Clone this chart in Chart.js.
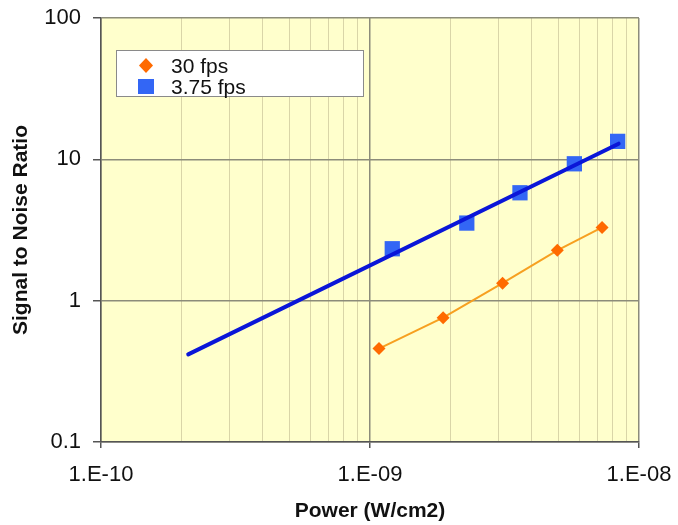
<!DOCTYPE html>
<html>
<head>
<meta charset="utf-8">
<script src="https://cdn.jsdelivr.net/npm/chart.js@4/dist/chart.umd.min.js"></script>
<style>
  html, body { margin: 0; padding: 0; background: #fff; }
  #wrap { width: 678px; height: 525px; }
</style>
</head>
<body>
<div id="wrap"><canvas id="snrChart"></canvas></div>
<script>
// values
const xTickLabels = ["1.E-10", "1.E-09", "1.E-08"];
const yTickLabels = ["0.1", "1", "10", "100"];

const power30 = [1.08e-9, 1.87e-9, 3.11e-9, 4.97e-9, 7.29e-9];
const snr30 = [0.458, 0.758, 1.33, 2.27, 3.30];

const power375 = [1.21e-9, 2.29e-9, 3.61e-9, 5.75e-9, 8.33e-9];
const snr375 = [2.33, 3.54, 5.80, 9.3, 13.4];

// straight fit line for 3.75 fps
const fitPower = [2.11e-10, 8.4e-9];
const fitSnr = [0.417, 12.9];

const legendLabels = ["30 fps", "3.75 fps"];

const FONT = "'Liberation Sans', Arial, sans-serif";
const ORANGE = "#ff6a00";
const ORANGE_LINE = "#f7a020";
const BLUE = "#3366f5";
const BLUE_LINE = "#0a16d8";
const MAJOR = "#8c8c7a";
const MINOR = "#d9d5a8";

const toPoints = (xs, ys) => xs.map((x, i) => ({ x: x, y: ys[i] }));

const isDecade = v => Math.abs(Math.log10(v) - Math.round(Math.log10(v))) < 1e-6;

// tick values: decades, plus 2..9 between them on the x axis
function logTicks(min, max, withMinor) {
  const out = [];
  const lo = Math.round(Math.log10(min));
  const hi = Math.round(Math.log10(max));
  for (let e = lo; e <= hi; e++) {
    out.push({ value: Math.pow(10, e) });
    if (withMinor && e < hi) {
      for (let m = 2; m <= 9; m++) out.push({ value: m * Math.pow(10, e) });
    }
  }
  return out;
}

function decadeLabel(labels, min) {
  return function (value) {
    if (!isDecade(value)) return "";
    const i = Math.round(Math.log10(value)) - Math.round(Math.log10(min));
    return labels[i] || "";
  };
}

// plot background + boxed legend inside the plot
const plotDecor = {
  id: "plotDecor",
  beforeDraw(chart) {
    const { ctx, chartArea: a } = chart;
    ctx.save();
    ctx.fillStyle = "#ffffcc";
    ctx.fillRect(a.left, a.top, a.right - a.left, a.bottom - a.top);
    ctx.restore();
  },
  afterDraw(chart) {
    const ctx = chart.ctx;
    const bx = 116, by = 50, bw = 247, bh = 46;
    ctx.save();
    ctx.fillStyle = "#ffffff";
    ctx.fillRect(bx, by, bw, bh);
    ctx.strokeStyle = "#8a8a8a";
    ctx.lineWidth = 1;
    ctx.strokeRect(bx + 0.5, by + 0.5, bw, bh);

    // diamond
    ctx.fillStyle = ORANGE;
    ctx.beginPath();
    ctx.moveTo(146, 58);
    ctx.lineTo(153, 65.5);
    ctx.lineTo(146, 73);
    ctx.lineTo(139, 65.5);
    ctx.closePath();
    ctx.fill();
    // square
    ctx.fillStyle = BLUE;
    ctx.fillRect(138, 79, 16, 15);

    ctx.fillStyle = "#111";
    ctx.font = "21px " + FONT;
    ctx.textBaseline = "alphabetic";
    ctx.fillText(legendLabels[0], 171, 73);
    ctx.fillText(legendLabels[1], 171, 94);
    ctx.restore();
  }
};

const xMin = 1e-10, xMax = 1e-8;
const yMin = 0.1, yMax = 100;

new Chart(document.getElementById("snrChart"), {
  type: "scatter",
  data: {
    datasets: [
      {
        label: "fit",
        data: toPoints(fitPower, fitSnr),
        showLine: true,
        borderColor: BLUE_LINE,
        borderWidth: 4,
        pointRadius: 0,
        borderCapStyle: "round",
        order: 0
      },
      {
        label: legendLabels[1],
        data: toPoints(power375, snr375),
        pointStyle: "rect",
        pointRadius: 10.8,
        pointBackgroundColor: BLUE,
        pointBorderWidth: 0,
        order: 1
      },
      {
        label: legendLabels[0],
        data: toPoints(power30, snr30),
        showLine: true,
        borderColor: ORANGE_LINE,
        borderWidth: 2,
        pointStyle: "rectRot",
        pointRadius: 6.5,
        pointBackgroundColor: ORANGE,
        pointBorderWidth: 0,
        order: 2
      }
    ]
  },
  options: {
    responsive: true,
    maintainAspectRatio: false,
    animation: false,
    events: [],
    layout: { padding: { left: 0, top: 18, right: 39, bottom: 0 } },
    plugins: {
      legend: { display: false },
      tooltip: { enabled: false }
    },
    scales: {
      x: {
        type: "logarithmic",
        min: xMin,
        max: xMax,
        afterBuildTicks: s => { s.ticks = logTicks(xMin, xMax, true); },
        afterFit: s => { s.height = 83; s.paddingLeft = 0; s.paddingRight = 0; },
        grid: {
          color: c => isDecade(c.tick.value) ? MAJOR : MINOR,
          lineWidth: c => isDecade(c.tick.value) ? 1.5 : 1,
          tickColor: c => isDecade(c.tick.value) ? "#555" : "rgba(0,0,0,0)",
          tickLength: 6
        },
        border: { color: "#555", width: 1.5 },
        ticks: {
          autoSkip: false,
          maxRotation: 0,
          padding: 14,
          color: "#111",
          font: { family: FONT, size: 22 },
          callback: decadeLabel(xTickLabels, xMin)
        },
        title: {
          display: true,
          text: "Power (W/cm2)",
          color: "#111",
          font: { family: FONT, size: 21, weight: "bold" },
          padding: { top: 0, bottom: 1 }
        }
      },
      y: {
        type: "logarithmic",
        min: yMin,
        max: yMax,
        afterBuildTicks: s => { s.ticks = logTicks(yMin, yMax, false); },
        afterFit: s => { s.width = 101; s.paddingTop = 0; s.paddingBottom = 0; },
        grid: {
          color: MAJOR,
          lineWidth: 1.5,
          tickColor: "#555",
          tickLength: 8
        },
        border: { color: "#555", width: 1.5 },
        ticks: {
          autoSkip: false,
          padding: 12,
          color: "#111",
          font: { family: FONT, size: 22 },
          callback: decadeLabel(yTickLabels, yMin)
        },
        title: {
          display: true,
          text: "Signal to Noise Ratio",
          color: "#111",
          font: { family: FONT, size: 21, weight: "bold" },
          padding: { top: 9, bottom: 0 }
        }
      }
    }
  },
  plugins: [plotDecor]
});
</script>
</body>
</html>
